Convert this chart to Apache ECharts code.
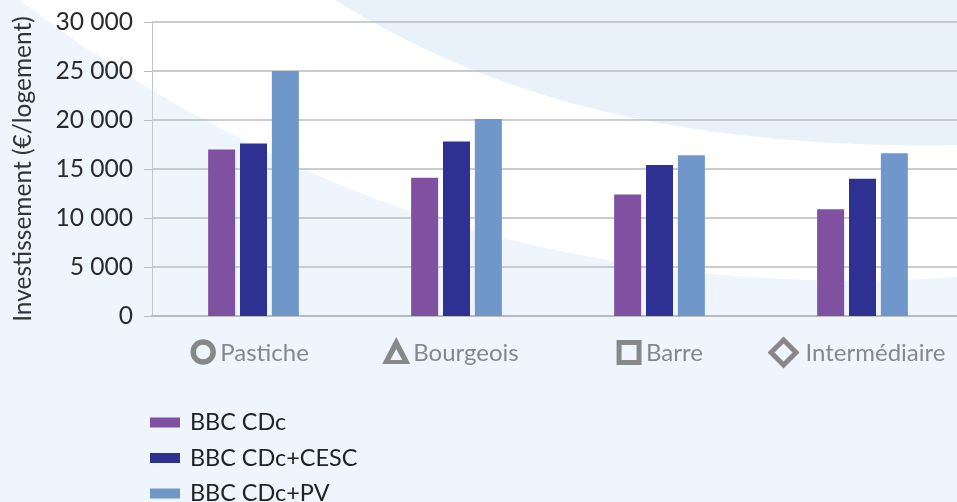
<!DOCTYPE html>
<html>
<head>
<meta charset="utf-8">
<script src="https://cdn.jsdelivr.net/npm/echarts@6/dist/echarts.min.js"></script>
<style>
  html, body { margin: 0; padding: 0; background: #eff5fc; overflow: hidden; }
  #back { position: absolute; left: 0; top: 0; }
  #main { position: absolute; left: 0; top: 0; width: 957px; height: 502px; }
</style>
</head>
<body>
<svg id="back" width="957" height="502">
  <!-- white swoosh -->
  <path fill="#ffffff" d="M20 0 C110 70 240 150 400 208 C560 262 760 292 957 277 L957 0 Z"/>
  <!-- pale band top right -->
  <path fill="#e9f2fa" d="M335 0 C450 70 620 150 957 145 L957 0 Z"/>
</svg>
<div id="main"></div>
<script>
  const categories = ['Pastiche', 'Bourgeois', 'Barre', 'Intermédiaire'];
  const seriesNames = ['BBC CDc', 'BBC CDc+CESC', 'BBC CDc+PV'];
  const cdc = [17000, 14100, 12400, 10900];
  const cdcCesc = [17600, 17800, 15400, 14000];
  const cdcPv = [25000, 20100, 16400, 16600];
  const colors = ['#7f51a0', '#2e3092', '#6f97c9'];
  const fontName = 'Lato';

  // little outlined shape in front of each category name, all drawn in a 34px high box
  const icons = [
    { svg: '<circle cx="13" cy="16" r="10" fill="none" stroke="#888" stroke-width="5.5"/>', w: 26, pad: [0, 8, 0, 4] },
    { svg: '<path fill-rule="evenodd" d="M14 1 L28 28 L0 28 Z M14 13 L8 24 L20 24 Z" fill="#888"/>', w: 28, pad: [0, 12, 0, 3] },
    { svg: '<rect x="3" y="6.5" width="20" height="20" fill="none" stroke="#888" stroke-width="5"/>', w: 26, pad: [0, 0, 0, 4] },
    { svg: '<path d="M16 4 L28.5 16.5 L16 29 L3.5 16.5 Z" fill="none" stroke="#888" stroke-width="5"/>', w: 32, pad: [0, 12, 0, 6] }
  ];
  let rich = {};
  icons.forEach(function (ic, i) {
    let svg = '<svg xmlns="http://www.w3.org/2000/svg" width="' + ic.w + '" height="34">' + ic.svg + '</svg>';
    rich['i' + i] = {
      width: ic.w,
      height: 34,
      backgroundColor: { image: 'data:image/svg+xml;charset=utf-8,' + encodeURIComponent(svg) }
    };
    rich['t' + i] = { fontFamily: fontName, fontSize: 24, lineHeight: 34, color: '#85888b', padding: ic.pad };
  });

  let myChart = echarts.init(document.getElementById('main'), null, { renderer: 'canvas' });
  let option = {
    animation: false,
    backgroundColor: 'transparent',
    color: colors,
    grid: { left: 152, right: -7, top: 22, bottom: 186, outerBoundsMode: 'none' },
    legend: {
      orient: 'vertical',
      left: 145,
      top: 406,
      height: 130,
      itemWidth: 30,
      itemHeight: 10,
      itemGap: 12.5,
      icon: 'rect',
      textStyle: { fontFamily: fontName, fontSize: 23.4, color: '#222', padding: [0, 0, 0, 5] },
      data: seriesNames
    },
    xAxis: {
      type: 'category',
      data: categories,
      axisTick: { show: false },
      axisLine: { lineStyle: { color: '#b9bcbf', width: 2 } },
      axisLabel: {
        margin: 20,
        interval: 0,
        formatter: function (value) {
          let i = categories.indexOf(value);
          return '{i' + i + '|}{t' + i + '|' + value + '}';
        },
        rich: rich
      }
    },
    yAxis: {
      type: 'value',
      min: 0,
      max: 30000,
      interval: 5000,
      name: 'Investissement (€/logement)',
      nameLocation: 'middle',
      nameGap: 116,
      nameTextStyle: { fontFamily: fontName, fontSize: 24.5, color: '#333' },
      axisLine: { show: true, lineStyle: { color: '#c4c6c9', width: 1 } },
      axisTick: { show: true, length: 8, lineStyle: { color: '#b9bcbf', width: 1 } },
      splitLine: { lineStyle: { color: '#b9bcbf', width: 1.5 } },
      axisLabel: {
        margin: 19,
        fontFamily: fontName,
        fontSize: 24.6,
        color: '#2b2b2b',
        formatter: function (value) {
          return String(value).replace(/(\d)(\d{3})$/, '$1 $2');
        }
      }
    },
    series: [
      { name: seriesNames[0], type: 'bar', barWidth: 27, barGap: '18%', data: cdc },
      { name: seriesNames[1], type: 'bar', barWidth: 27, barGap: '18%', data: cdcCesc },
      { name: seriesNames[2], type: 'bar', barWidth: 27, barGap: '18%', data: cdcPv }
    ]
  };
  myChart.setOption(option);
</script>
</body>
</html>
